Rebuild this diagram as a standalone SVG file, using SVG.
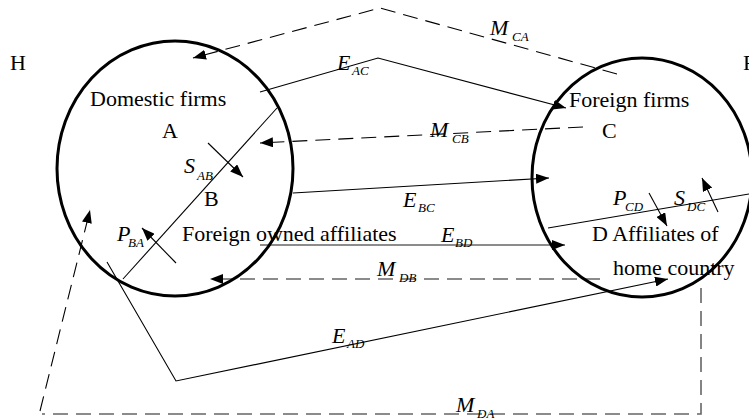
<svg xmlns="http://www.w3.org/2000/svg" width="749" height="418" viewBox="0 0 749 418">
<defs>
<marker id="ah" markerUnits="userSpaceOnUse" markerWidth="14" markerHeight="10" refX="13" refY="5" orient="auto">
<path d="M0,0 L13,5 L0,10 z" fill="#000"/>
</marker>
<style>
text{font-family:"Liberation Serif","Times New Roman",serif;fill:#000}
.t{font-size:22px}
.i{font-size:22px;font-style:italic}
.s{font-size:13px;font-style:italic}
.c{fill:none;stroke:#000;stroke-width:3}
.ln{fill:none;stroke:#000;stroke-width:1.1}
.g{fill:none;stroke:#666;stroke-width:1.6}
.d{fill:none;stroke:#000;stroke-width:1.1;stroke-dasharray:15 8}
.dg{fill:none;stroke:#666;stroke-width:1.6;stroke-dasharray:15 8}
</style>
</defs>
<rect width="749" height="418" fill="#fff"/>
<g id="connectors">
<polyline class="d" points="617,74 380,8 193,58" marker-end="url(#ah)"/>
<polyline class="ln" points="260,92 378,58 566,108" marker-end="url(#ah)"/>
<line class="d" x1="583" y1="127" x2="260" y2="143" marker-end="url(#ah)"/>
<line class="ln" x1="277" y1="108" x2="123" y2="279"/>
<line class="ln" x1="208" y1="143" x2="243" y2="177" marker-end="url(#ah)"/>
<line class="ln" x1="176" y1="263" x2="142" y2="228" marker-end="url(#ah)"/>
<line class="ln" x1="293" y1="193" x2="549" y2="178" marker-end="url(#ah)"/>
<line class="g" x1="260" y1="245" x2="565" y2="245" marker-end="url(#ah)"/>
<line class="dg" x1="600" y1="279" x2="210" y2="279" marker-end="url(#ah)"/>
<polyline class="ln" points="107,262 176,381 668,279" marker-end="url(#ah)"/>
<polyline class="dg" points="701,288 701,414 42,414"/>
<line class="d" x1="40" y1="411" x2="90" y2="210" marker-end="url(#ah)"/>
<line class="ln" x1="548" y1="228" x2="749" y2="194"/>
<line class="ln" x1="649" y1="193" x2="667" y2="226" marker-end="url(#ah)"/>
<line class="ln" x1="718" y1="212" x2="702" y2="178" marker-end="url(#ah)"/>
</g>
<g id="node-home">
<ellipse class="c" cx="175" cy="168.5" rx="118" ry="127.5"/>
<text class="t" x="10" y="70">H</text>
<text class="t" x="90" y="106">Domestic firms</text>
<text class="t" x="162" y="138">A</text>
<text class="t" x="204" y="206">B</text>
<text class="t" x="182" y="241">Foreign owned affiliates</text>
</g>
<g id="node-foreign">
<ellipse class="c" cx="642" cy="177.5" rx="110" ry="119.5"/>
<text class="t" x="743" y="70">F</text>
<text class="t" x="569" y="107">Foreign firms</text>
<text class="t" x="602" y="138">C</text>
<text class="t" x="592" y="241">D Affiliates of</text>
<text class="t" x="613" y="275">home country</text>
</g>
<g id="labels">
<text class="i" x="337" y="70">E</text><text class="s" x="352" y="75">AC</text>
<text class="i" x="490" y="35">M</text><text class="s" x="512" y="41">CA</text>
<text class="i" x="430" y="137">M</text><text class="s" x="452" y="143">CB</text>
<text class="i" x="184" y="173">S</text><text class="s" x="197" y="180">AB</text>
<text class="i" x="403" y="207">E</text><text class="s" x="418" y="212">BC</text>
<text class="i" x="441" y="242">E</text><text class="s" x="455" y="247">BD</text>
<text class="i" x="377" y="276">M</text><text class="s" x="399" y="282">DB</text>
<text class="i" x="332" y="343">E</text><text class="s" x="347" y="348">AD</text>
<text class="i" x="456" y="412">M</text><text class="s" x="477" y="418">DA</text>
<text class="i" x="117" y="241">P</text><text class="s" x="128" y="247">BA</text>
<text class="i" x="613" y="205">P</text><text class="s" x="625" y="211">CD</text>
<text class="i" x="674" y="205">S</text><text class="s" x="687" y="211">DC</text>
</g>
</svg>
